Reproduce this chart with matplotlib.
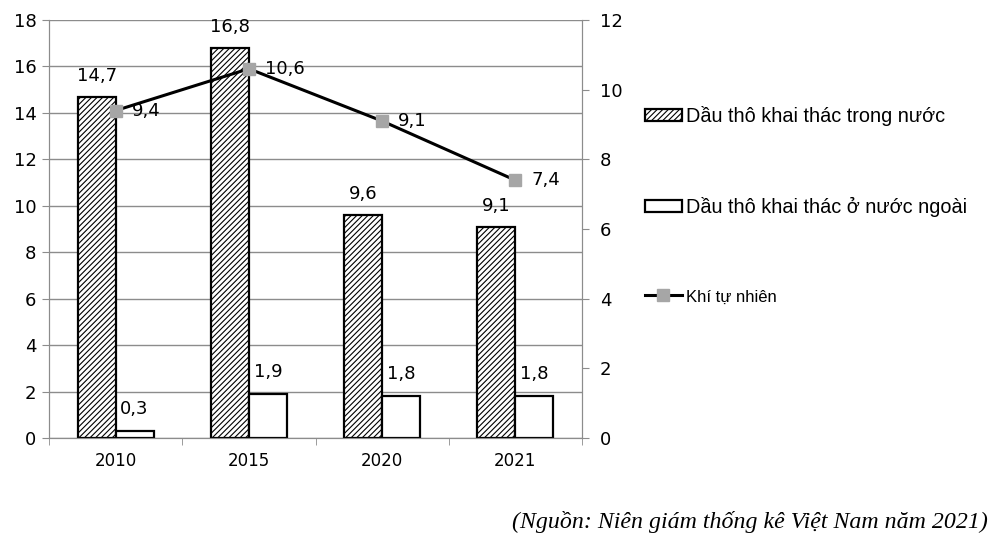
import matplotlib.pyplot as plt
import numpy as np

# Dữ liệu
nam = ['2010', '2015', '2020', '2021']
dau_trong_nuoc = [14.7, 16.8, 9.6, 9.1]
dau_nuoc_ngoai = [0.3, 1.9, 1.8, 1.8]
khi_tu_nhien = [9.4, 10.6, 9.1, 7.4]

plt.rcParams['hatch.linewidth'] = 0.8
fig = plt.figure(figsize=(9.91, 5.36), dpi=100)
ax = fig.add_axes([49/991, 98/536, 533/991, 418/536])
ax2 = ax.twinx()

x = np.arange(len(nam))
w = 0.285
b1 = ax.bar(x - w/2, dau_trong_nuoc, w, facecolor='white', edgecolor='black',
            hatch='//////', linewidth=1.6, label='Dầu thô khai thác trong nước', zorder=3)
b2 = ax.bar(x + w/2, dau_nuoc_ngoai, w, facecolor='white', edgecolor='black',
            linewidth=1.6, label='Dầu thô khai thác ở nước ngoài', zorder=3)
ln, = ax2.plot(x, khi_tu_nhien, color='black', linewidth=2.2, marker='s', markersize=8,
               markerfacecolor='#a6a6a6', markeredgecolor='#a6a6a6', label='Khí tự nhiên', zorder=4)

ax.set_xlim(-0.5, 3.5)
ax.set_ylim(0, 18)
ax.set_yticks(range(0, 19, 2))
ax2.set_ylim(0, 12)
ax2.set_yticks(range(0, 13, 2))
ax.yaxis.grid(True, color='#8c8c8c', linewidth=1, zorder=0)
ax.set_axisbelow(True)

ax.set_xticks(x)
ax.set_xticklabels(nam)
ax.set_xticks(np.arange(-0.5, 4, 1), minor=True)
ax.tick_params(axis='x', which='major', length=0, pad=10, labelsize=12)
ax.tick_params(axis='x', which='minor', length=5, color='#8c8c8c')
ax.tick_params(axis='y', length=5, color='#8c8c8c', labelsize=13, pad=4)
ax2.tick_params(axis='y', length=5, color='#8c8c8c', labelsize=13, pad=8)

for a in (ax, ax2):
    a.spines['top'].set_visible(False)
    for s in ('left', 'right', 'bottom'):
        a.spines[s].set_color('#8c8c8c')

def nhan(v):
    return f'{v:.1f}'.replace('.', ',')

for i in range(len(nam)):
    ax.annotate(nhan(dau_trong_nuoc[i]), (x[i] - w/2, dau_trong_nuoc[i]), xytext=(0, 15),
                textcoords='offset points', ha='center', va='center', fontsize=13)
    ax.annotate(nhan(dau_nuoc_ngoai[i]), (x[i] + w/2, dau_nuoc_ngoai[i]), xytext=(0, 16),
                textcoords='offset points', ha='center', va='center', fontsize=13)
    ax2.text(x[i] + 0.12, khi_tu_nhien[i], nhan(khi_tu_nhien[i]),
             ha='left', va='center', fontsize=13, zorder=5)

fig.legend(handles=[b1, b2, ln], loc='upper left', bbox_to_anchor=(627/991, 1 - 88/536),
           frameon=False, prop={'family': 'Liberation Sans', 'size': 14.3},
           labelspacing=3.6, handlelength=1.85, handletextpad=0.2, handleheight=0.55)
leg = fig.legends[0]
leg.get_texts()[2].set_fontsize(12)

fig.text(988/991, 1 - 522/536, '(Nguồn: Niên giám thống kê Việt Nam năm 2021)',
         ha='right', va='center', fontsize=17.2, style='italic', family='Liberation Serif')

plt.savefig('out.png', dpi=100)
